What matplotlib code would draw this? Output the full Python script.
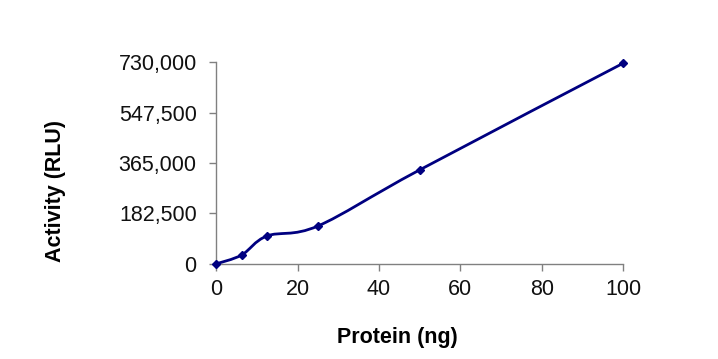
import numpy as np
import matplotlib
matplotlib.use('Agg')
import matplotlib.pyplot as plt
from matplotlib.path import Path
from matplotlib.patches import PathPatch

plt.rcParams['font.family'] = ['Liberation Sans', 'DejaVu Sans']

protein = [0, 6.25, 12.5, 25, 50, 100]
activity = [0, 32000, 101000, 137000, 340000, 726000]
yticks = [0, 182500, 365000, 547500, 730000]
xticks = [0, 20, 40, 60, 80, 100]


def smooth_path(x, y):
    # Excel-style smoothed line: cubic bezier segments, tension 1/6
    pts = np.column_stack([x, y]).astype(float)
    n = len(pts)
    verts = [pts[0]]
    codes = [Path.MOVETO]
    for i in range(n - 1):
        p0 = pts[i - 1] if i > 0 else pts[i]
        p1 = pts[i]
        p2 = pts[i + 1]
        p3 = pts[i + 2] if i + 2 < n else pts[i + 1]
        c1 = p1 + (p2 - p0) / 6.0
        c2 = p2 - (p3 - p1) / 6.0
        verts += [c1, c2, p2]
        codes += [Path.CURVE4] * 3
    return Path(verts, codes)


fig = plt.figure(figsize=(7.18, 3.59), dpi=100)
ax = fig.add_axes([0.301, 0.265, 0.567, 0.562])

navy = '#000080'
ax.add_patch(PathPatch(smooth_path(protein, activity), facecolor='none',
                       edgecolor=navy, lw=2.0, zorder=3))
ax.plot(protein, activity, linestyle='none', marker='D', ms=4,
        color=navy, zorder=4, clip_on=False)

ax.set_xlim(0, 100)
ax.set_ylim(0, 730000)
ax.set_xticks(xticks)
ax.set_yticks(yticks)
ax.set_yticklabels(['{:,}'.format(v) for v in yticks])
for s in ['top', 'right']:
    ax.spines[s].set_visible(False)
for s in ['left', 'bottom']:
    ax.spines[s].set_color('#808080')
    ax.spines[s].set_linewidth(1.0)
ax.tick_params(direction='out', length=5, width=1.0, color='#808080',
               labelsize=15.5, labelcolor='#111111')
ax.tick_params(axis='y', pad=9)
ax.tick_params(axis='x', pad=6)

fig.text(0.553, 0.061, 'Protein (ng)', fontsize=15.5, fontweight='bold',
         ha='center', va='center')
fig.text(0.077, 0.468, 'Activity (RLU)', fontsize=15.5, fontweight='bold',
         ha='center', va='center', rotation=90)

fig.savefig('out.png', dpi=100)
